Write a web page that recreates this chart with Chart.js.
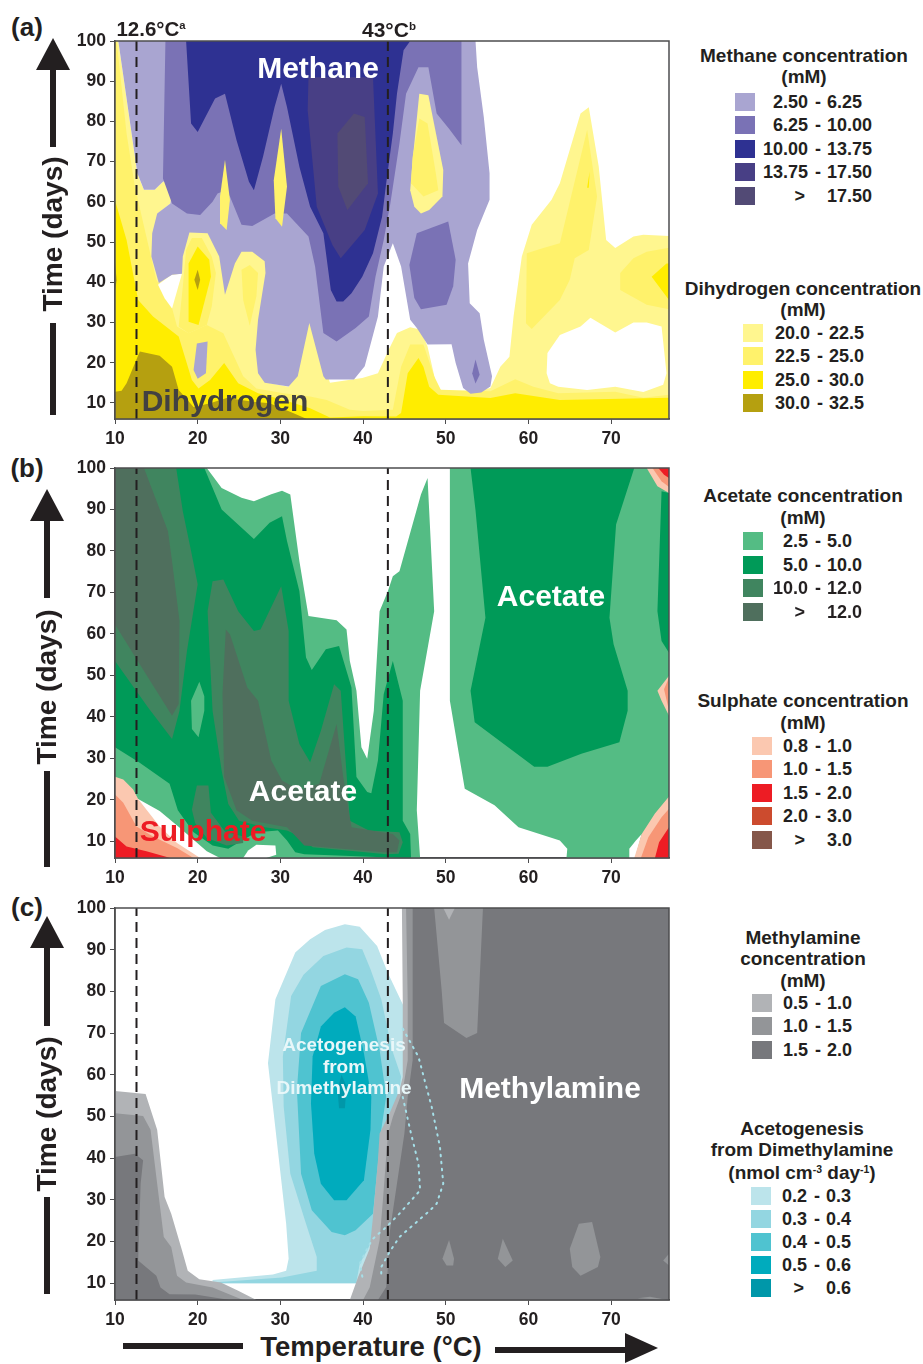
<!DOCTYPE html>
<html>
<head>
<meta charset="utf-8">
<title>Contour panels</title>
<script src="https://cdn.jsdelivr.net/npm/chart.js@4/dist/chart.umd.min.js"></script>
<style>
    html, body { margin: 0; padding: 0; background: #fff; }
    #page { position: relative; width: 923px; height: 1364px; overflow: hidden; font-family: "Liberation Sans", Arial, sans-serif; font-weight: bold; color: #231f20; }
    #page canvas { position: absolute; }
    .txt { position: absolute; white-space: nowrap; transform: translate(-50%, -50%); line-height: 1; }
    .txt sup { font-size: 55%; line-height: 0; vertical-align: baseline; position: relative; top: -0.6em; }
    .box { position: absolute; background: #231f20; }
    .swatch { position: absolute; }
</style>
</head>
<body>
<div id="page"></div>
<script>
// axis ticks and reference temperatures, same for all three panels
const tempTicks = [10, 20, 30, 40, 50, 60, 70];
const dayTicks = [10, 20, 30, 40, 50, 60, 70, 80, 90, 100];
const refTemps = [12.6, 43];

// all contour outlines below are [temperature, day]

// (a) dihydrogen
const h2Light = [[10,100],[10.4,100],[12.7,67],[13.5,63],[14.8,63],[15.8,65],[16.7,65.6],[16.9,62.5],[16.7,59.6],[15.1,57],[19,53],[21.5,53],[28.5,48],[28.5,15],[31,14],[33.5,31],[36,15],[39.9,16.2],[41.8,17.4],[43.1,23.2],[44.1,27.4],[45.7,28.8],[47,28.2],[47.8,24],[48.8,15],[49.6,12.6],[52.2,12.5],[55.4,13.7],[56.6,19],[57.7,21.5],[58.2,31.5],[59.2,46.4],[60.4,54.3],[62.8,60.5],[63.8,64.6],[66.3,82],[67.3,83.5],[68.5,68.8],[69.4,50.5],[70.5,48.5],[72.7,51.4],[73.9,51.8],[77,51.5],[77,6],[10,6]];
const h2Mid = [[10,100],[10.2,100],[11.4,77],[12.4,63.8],[13.7,52.2],[15,40.6],[16.9,33.6],[17.5,29],[18.9,27.3],[21.1,29.4],[23.1,27.3],[25.5,16.6],[27.1,13.6],[30.4,12.4],[33.6,11.6],[35.6,10.7],[38.4,8.3],[40,8],[43.6,8.3],[44.6,19],[45.7,24.5],[47.3,24.5],[48.6,16.6],[49.4,13.3],[55.4,12.9],[58.4,15.9],[60.6,14],[63.6,12.4],[70.5,12.8],[73.9,11.3],[77,12],[77,6],[10,6]];
const h2MidLobe1 = [[18.6,48.1],[19.3,51],[20.5,51],[21.7,46.4],[22.2,42.3],[21.7,34],[21.1,29.4],[18.9,27.3],[17.7,29],[18.2,38.9]];
const h2MidLobe2 = [[25.3,43.1],[26.3,44.3],[27.3,42.3],[27.1,36.5],[26.3,29.2],[25.5,35.6]];
const h2MidTower = [[59.8,47.2],[61.8,48.5],[63.8,49.7],[67.1,77.9],[68.3,61.3],[67.3,48],[65.6,46],[65,40.6],[63.8,35.6],[60.4,28.4],[59.7,29.8]];
const h2MidRight = [[71.1,42.3],[72.7,46],[74.3,47.6],[77,48.6],[77,33.3],[74.3,34.4],[71.1,38.1]];
const h2High = [[10,60.4],[11.4,50.5],[12.8,35.6],[14.6,31.5],[17.7,26.5],[19.3,15.7],[20.1,13.6],[21.5,15.7],[23.2,19.9],[24.9,14.9],[27.3,12.4],[30.4,10.7],[33.6,8.7],[36,6.4],[40,6.7],[44,6.6],[44.6,7.5],[45.4,17.4],[46.7,21.2],[47.3,19],[48,14],[49.1,12],[55.4,11.2],[58.4,12.4],[63.8,10.7],[77,11.3],[77,6],[10,6]];
const h2HighLobe = [[18.9,44.7],[20,48.9],[21.4,45.6],[21.6,41.4],[20.1,29.4],[18.9,30.2]];
const h2HighRight = [[74.9,41.4],[76.7,44.7],[77,44.7],[77,35.6]];
const h2HighSliver = [[67.1,63.5],[67.4,67.5],[67.3,63.5]];
const h2Top = [[10,12.8],[10.8,13],[11.4,14.9],[13,22.8],[15.4,21.7],[16.9,19],[17.7,13.2],[19.5,9],[21.5,9.9],[23.5,11.2],[26.7,10.3],[28.7,9.9],[31.6,7.4],[33.2,6],[10,6]];
const h2TopEdge = [[10,45],[10.2,40.5],[10,38]];
const h2Diamond = [[20,43.1],[20.3,40.6],[20,38.1],[19.6,40.6]];
const h2HoleLeft = [[15.2,39.4],[16.8,41.8],[18.1,42.2],[16.9,33.5],[16,36]];
const h2HoleRight = [[63.8,26.9],[66.3,29],[67.5,31.2],[70.5,27.5],[72.7,30],[74.3,30],[76.1,29],[76.7,17.4],[76.3,14.5],[73.9,12.7],[70.5,14],[67.1,13.2],[63.6,14],[62.6,14.9],[62.2,17.4],[62.3,22.4]];
const h2IslandLight = [[46.8,86.9],[47.9,86.5],[49.7,67.9],[49.6,61.3],[48,58],[47,57.1],[46.2,58.8],[45.7,62.9],[46,70.4]];
const h2IslandMid = [[46.8,80.7],[47.8,79.5],[48.8,67.1],[49.1,62.9],[47.3,61.3],[45.8,64.6],[46,71.2]];
const h2Spike1 = [[23.3,70.4],[23.9,60.5],[23.5,53],[22.7,54.7],[22.7,61.3]];
const h2Spike2 = [[30.1,78.2],[30.8,63.8],[30.2,53.8],[29.4,55.9],[29.2,65.4]];

// (a) methane
const ch4Low = [[10.4,100],[53.6,100],[53.8,93.5],[54.6,81.1],[55.3,67.1],[55.3,60.5],[53.8,53],[52.7,44.7],[52.9,34.8],[54.1,32.3],[54.6,25.7],[55.6,16.6],[55.4,14.1],[54.3,12.6],[53,12.3],[52.1,13.7],[51.2,19.9],[50.7,24.6],[47.8,24.5],[46.5,28.6],[45.7,30.7],[44.6,43.9],[43.6,49.7],[42.5,43.9],[41.8,31.5],[40.2,19.1],[38.9,15.8],[35.5,15.8],[35.2,16.6],[33.5,29.9],[32.1,16.6],[31,14.1],[28.1,15],[27.3,17.4],[27,23.2],[27.3,30.7],[28.2,42.3],[28.1,45.2],[26.6,47.6],[25.3,47.6],[24.5,44.7],[23.3,36.9],[22.6,46.4],[21.2,52.2],[19,52.4],[18.2,46.4],[18.1,42.1],[16.9,41.9],[15.3,39.8],[14.4,46.4],[14.5,52.2],[15.1,57.1],[16.7,59.6],[16.9,62.5],[16.7,65.6],[15.8,65],[14.8,63],[13.5,63],[12.7,67.1]];
const ch4LowPatch = [[19.9,24.8],[21.2,25.3],[21,17.4],[20,16],[19.5,18.2]];
const ch4Mid = [[16.1,100],[51.9,100],[51.9,74.1],[50.4,78.2],[48.9,82],[47.9,93.5],[46.7,93.5],[45.2,86.9],[44.4,74.5],[43.3,59.6],[42.5,50.5],[41.5,41.4],[40.7,31.5],[39.1,28.6],[36.8,25.3],[35.2,27.4],[34.2,43.9],[33.4,51.4],[30.8,57.1],[29.3,57.1],[27.9,55.5],[26.6,54],[25.3,54.3],[23.9,61.3],[23.4,62.9],[22.4,62.1],[21.8,60],[20.3,56.7],[18.7,57.1],[16.9,59.6],[15.8,65.8]];
const ch4MidPatch = [[46.5,52.2],[50.3,55.1],[51.2,45.6],[50.9,39],[50.1,34.4],[47,33.3],[46.2,36.1],[45.6,44.3]];
const ch4MidDiamond = [[53.6,20.8],[54.1,17],[53.6,14.8],[53.2,17.3]];
const ch4High = [[18.6,100],[45.7,100],[44.9,97.7],[44.1,86.9],[43.6,77],[42.8,64.6],[42.3,56.3],[41.2,47.2],[39.9,41.4],[38.6,37.3],[37.6,35.2],[36.8,35.2],[36.1,38.1],[35.2,52.2],[33.6,58.8],[32.3,68.7],[30.8,83.6],[30.1,89.4],[29.3,83.6],[27.9,71.2],[26.8,62.9],[26.2,65],[24.7,75.3],[23.3,86.9],[22.1,85.7],[20,77.4],[19.2,79.5]];
const ch4Higher = [[33.4,91],[41.2,91],[41.8,62.1],[40.2,53],[37.3,46],[36.3,49.3],[34.4,58.8],[33.3,82.8]];
const ch4Top = [[38.9,82],[40.2,81.1],[40.6,64.6],[38.1,58],[37,63.8],[36.9,77]];

// (b) acetate
const acLowLeft = [[10,100],[21.1,100],[22.9,95.2],[25.3,92.8],[26.8,92],[28.9,93.7],[30.2,94.5],[31.2,93.6],[32.3,77.5],[33.4,64.3],[36.8,63.3],[38,61.1],[38.4,53.5],[39.2,46.3],[39.8,32.7],[40.5,29.9],[41.3,41.5],[42,65.5],[43,70.3],[43.6,73.9],[44.4,75.1],[47,93.6],[47.8,97.6],[48.6,65.5],[46.9,46.3],[46.5,17.5],[46.9,6],[10,6]];
const acLowRight = [[50.5,100],[77,100],[77,6],[64.6,6],[64.7,8.2],[63.8,10.2],[58.8,13.4],[55.9,18.7],[52.3,22.7],[50.5,43.9]];
const acLowIsland = [[19.2,43.9],[20.2,48.5],[20.8,45],[20.8,41.5],[20.1,35.1],[19.3,37.1]];
const acMidLeft = [[10,100],[20.8,100],[22.9,90],[26.8,82.9],[28.7,86.8],[30.2,88.4],[30.8,82.4],[32.3,70.3],[33.1,54.3],[33.8,51.3],[35.5,56.3],[37.1,57.1],[38.6,47.1],[39.2,25.5],[40.5,21.9],[41,21.6],[41.8,29.5],[42.5,45.5],[43.6,53.5],[44.8,43.9],[44.8,15],[45.7,11.8],[45.8,6],[44.8,6],[32.9,6.9],[31.8,7.4],[30.8,10.2],[29.7,12.6],[27.1,12.2],[25,9.8],[23.7,8.2],[21.8,9],[19.5,12.2],[17.6,17.5],[16.6,23.9],[12.9,29.1],[10,32.7]];
const acMidRight = [[53,100],[72.8,100],[70.6,86.4],[69.8,63.9],[70.3,57.5],[72,46.3],[72,41.5],[71,33.9],[66.4,31.1],[62.3,28],[60.7,28],[53.5,38.7],[53,46.3],[54.8,63.9],[53.6,89.8]];
const acMidEdge = [[76.1,94.4],[77,94],[77,55.5],[76.1,58.3],[75.6,65.5]];
const acHighLeft = [[10,100],[17.4,100],[18.2,89.6],[19.2,80],[20,72],[18.7,55.9],[17.8,41.5],[16.9,34.7],[14,42.3],[10,53.5]];
const acHighMain = [[21.8,72.7],[23.1,73.1],[24.9,65.5],[26.8,60.7],[27.6,61.1],[30.1,71.5],[31,60.7],[31,43.9],[32.3,33.5],[33.6,29.1],[34.9,36.7],[36.5,47.9],[37.3,46.3],[38.4,15],[40.7,12.6],[44.4,12.2],[44.8,9.8],[44.3,7],[42.8,6.9],[33.9,8.6],[32.6,11],[30.8,12.6],[28.1,13.4],[25,15],[23.7,19],[22.9,27],[21.8,41.5],[21.2,65.5]];
const acHighPatch = [[19.3,17.7],[19.9,23.5],[21.3,23.5],[21.6,16.9],[23.3,12.4],[25.5,11.2],[25.5,9.6],[23.5,9],[21.1,10.8],[19.7,14.4]];
const acTopLeft = [[10,100],[13.5,100],[16.4,84.8],[16.9,77.5],[17.8,63.1],[17.7,43.1],[16.9,40.3],[14,49.5],[10,62.3]];
const acTopMain = [[23.4,61.1],[23.9,59.9],[26,47.1],[27.3,43.9],[28.9,29.5],[30.2,24.7],[32.3,22.3],[34.7,23.9],[36.8,38.3],[37.6,25.5],[38.6,13.4],[43.6,11.8],[44.4,10.2],[44.1,7.4],[42.5,7.4],[32.9,9],[30.8,13.4],[26.6,15],[24.7,17.5],[23.2,25.5],[23,45.5]];
const acHoleLeft = [[10,18],[12.8,20.2],[15.4,17.3],[17.9,13.2],[19.5,10.4],[21.1,7.6],[22.7,6],[10,6]];
const acHoleIsland = [[26.1,7.8],[27.1,9.2],[29.4,9],[29.5,6.8],[28.3,6],[25.5,6]];
const acHoleRight = [[72.2,6],[72.2,8.2],[73,10.2],[73.7,11.8],[72.9,6]];

// (b) sulphate
const so4LowLeft = [[10,25.6],[11,24.9],[12.2,22.5],[12.8,20.2],[15.4,13.6],[17.5,9.6],[20.3,6],[10,6]];
const so4MidLeft = [[10,21.3],[11,19.3],[12.6,13.6],[14.6,11.2],[17.5,8.4],[19.5,6],[10,6]];
const so4HighLeft = [[10,11.2],[11.4,8.8],[13.8,7.6],[16.7,6],[10,6]];
const so4LowRight = [[72.8,6],[73.7,11.8],[75.3,16.7],[77,20.8],[77,6]];
const so4MidRight = [[73.6,6],[74.5,11],[76.1,15.8],[77,17.9],[77,6]];
const so4HighRight = [[75.3,6],[75.8,9.8],[77,13.4],[77,6]];
const so4LowCorner = [[74.3,100],[75.6,95.6],[77,94],[77,100]];
const so4MidCorner = [[75,100],[76.1,96.8],[77,95.4],[77,100]];
const so4HighCorner = [[75.7,100],[76.4,98.4],[77,97.6],[77,100]];
const so4LowEdge = [[75.6,46.3],[77,49.9],[77,40.3],[76.1,43.9]];
const so4MidEdge = [[76.4,46.7],[77,49.5],[77,41.5]];

// (c) methylamine
const maLowLeft = [[10,56.1],[13.7,55.4],[15.1,46.8],[16,30.7],[16.8,26.7],[18.1,17.9],[18.8,13],[20.2,11],[22.8,10.2],[24.9,8.2],[27.1,6],[10,6]];
const maMidLeft = [[10,50.8],[13.4,50.1],[14.3,46.8],[15.1,33.9],[15.9,21.1],[16.8,18.7],[17.5,11.8],[18.6,10.2],[21.8,9],[25.5,6],[10,6]];
const maHighLeft = [[10,40.3],[12.4,41.1],[13.4,39.5],[13.1,33.9],[12.8,15.5],[15,11.8],[15.5,9],[16.6,7.4],[19.7,7.3],[23.9,6],[10,6]];
const maLowRight = [[44.7,100],[77,100],[77,6],[38.4,6],[39.4,11.5],[40.8,18.3],[41.2,25.9],[41.8,39.5],[42,45.9],[43.2,50.7],[44.4,56.3],[44.8,59.5],[44.8,78]];
const maMidRight = [[45.2,100],[77,100],[77,6],[40,6],[40.8,9],[42,20.3],[42.4,29.9],[43,45.7],[43.6,49.9],[44.8,56.3],[45.4,63.5],[45.4,78]];
const maHighRight = [[46,100],[77,100],[77,6],[41.8,6],[42.8,9.1],[43,13.9],[43.2,21.9],[45,45.9],[45.4,54.7],[46,63.5],[46,78]];
const maMidTop = [[48.6,100],[54.5,100],[53.8,70],[52.5,68.8],[49.8,72.4],[49.5,80.4]];
const maLowTop = [[49.7,100],[51.1,100],[50.4,97.2]];
const maDrop1 = [[50.4,20.4],[51,15.9],[50.9,14.3],[50.1,14.3],[49.6,15.9]];
const maDrop2 = [[56.9,20.7],[58.1,15.5],[57.2,13.9],[56.3,15.9]];
const maDrop3 = [[66.1,24.3],[67.7,24.7],[68.7,16.3],[68.4,13.9],[66.3,11.8],[65.3,13.9],[65,18.3]];
const maDrop4 = [[77,17.1],[76.3,15.5],[77,14.3]];
const maDrop5 = [[73.2,6.4],[74.7,6.8],[76.8,6]];

// (c) acetogenesis from dimethylamine
const agA = [[37.8,96.1],[39.6,95.5],[41.7,90.9],[43,84.4],[45.5,74],[45.5,56],[42,20],[40.7,10],[21.8,10],[21.8,10.8],[29.1,12.1],[30.7,13],[31,15.9],[30.7,24.3],[29.1,52.4],[28.5,62.8],[29.4,78.1],[31.8,89.3],[33.6,92.5],[35.4,94.7]];
const agB = [[38,90.5],[39.9,90.1],[40.9,85.3],[42.2,78.1],[43.5,66],[44.6,59.6],[43,30],[40.6,18.3],[39.6,14.7],[39.2,10.3],[39.2,10],[21.8,10],[21.8,10.2],[30.2,11.4],[34.4,13],[34.4,16.3],[33.1,24.3],[31.2,36.3],[30.4,52.4],[30.3,64.4],[31.3,78.9],[32.8,84],[35.2,88.5]];
const agC = [[37.8,84.1],[39.4,82.9],[40.7,77.3],[42,66],[42.8,54.8],[42.2,46.8],[41.2,26.7],[39.1,22.7],[37.8,21.5],[36.2,22.3],[33.8,27.5],[32.5,36.3],[32,56.4],[32.5,70],[34.9,81.3]];
const agD = [[37.8,76.2],[39.1,74],[40.1,65.2],[41,54.8],[40.9,46.8],[40.1,34.7],[38,29.9],[36.5,29.9],[34.9,33.9],[34.1,41.1],[33.7,53.2],[33.9,64.4],[34.9,71.6],[36.5,74.9]];
const agE = [[37.4,60],[38,57.2],[37.8,52],[37.1,52],[36.9,56.4]];
const agOuterLine = [[44.8,71.1],[46.7,64.3],[48.3,52.3],[49.3,42.7],[49.7,33.9],[48.9,29.1],[48.1,27.5],[44.4,21.1],[43.2,17.5],[42.2,13.9],[42.2,11.5]];
const agInnerLine = [[44.8,54.7],[45.8,45.9],[46.7,38.7],[46.9,32.3],[44.4,26.7],[42.8,23.5],[41.2,20.7],[40.6,18.7],[39.6,14.7],[40,10.7]];

// legend contents
const methaneRanges = [['2.50','6.25'],['6.25','10.00'],['10.00','13.75'],['13.75','17.50'],['>','17.50']];
const methaneColors = ['#a9a5d1','#7a72b5','#2e3192','#483f85','#524a75'];
const hydrogenRanges = [['20.0','22.5'],['22.5','25.0'],['25.0','30.0'],['30.0','32.5']];
const hydrogenColors = ['#fff68f','#fff26b','#ffed00','#b5a010'];
const acetateRanges = [['2.5','5.0'],['5.0','10.0'],['10.0','12.0'],['>','12.0']];
const acetateColors = ['#54bc84','#009a58','#40855f','#4f6f5d'];
const sulphateRanges = [['0.8','1.0'],['1.0','1.5'],['1.5','2.0'],['2.0','3.0'],['>','3.0']];
const sulphateColors = ['#fbc8b0','#f79676','#ed1c24','#cc4b2e','#85574a'];
const methylamineRanges = [['0.5','1.0'],['1.0','1.5'],['1.5','2.0']];
const methylamineColors = ['#b1b3b6','#939598','#77787c'];
const acetogenesisRanges = [['0.2','0.3'],['0.3','0.4'],['0.4','0.5'],['0.5','0.6'],['>','0.6']];
const acetogenesisColors = ['#bce4eb','#93d6e1','#4fc3d0','#00abbd','#0097a9'];

const page = document.getElementById('page');

// painter's order: later entries sit on top
const layersA = [
    [h2Light, hydrogenColors[0]], [h2Mid, hydrogenColors[1]], [h2MidLobe1, hydrogenColors[1]], [h2MidLobe2, hydrogenColors[1]],
    [h2MidTower, hydrogenColors[1]], [h2MidRight, hydrogenColors[1]], [h2High, hydrogenColors[2]], [h2HighLobe, hydrogenColors[2]],
    [h2HighRight, hydrogenColors[2]], [h2HighSliver, hydrogenColors[2]], [h2Top, hydrogenColors[3]], [h2TopEdge, hydrogenColors[3]],
    [h2Diamond, hydrogenColors[3]], [h2HoleLeft, '#fff'], [h2HoleRight, '#fff'],
    [ch4Low, methaneColors[0]], [ch4LowPatch, methaneColors[0]], [ch4Mid, methaneColors[1]], [ch4MidPatch, methaneColors[1]],
    [ch4MidDiamond, methaneColors[1]], [ch4High, methaneColors[2]], [ch4Higher, methaneColors[3]], [ch4Top, methaneColors[4]],
    [h2IslandLight, hydrogenColors[0]], [h2IslandMid, hydrogenColors[1]], [h2Spike1, hydrogenColors[1]], [h2Spike2, hydrogenColors[1]]
];
const layersB = [
    [acLowLeft, acetateColors[0]], [acLowRight, acetateColors[0]], [acHoleLeft, '#fff'], [acHoleIsland, '#fff'], [acHoleRight, '#fff'],
    [acMidLeft, acetateColors[1]], [acMidRight, acetateColors[1]], [acMidEdge, acetateColors[1]], [acLowIsland, acetateColors[0]],
    [acHighLeft, acetateColors[2]], [acHighMain, acetateColors[2]], [acHighPatch, acetateColors[2]], [acTopLeft, acetateColors[3]], [acTopMain, acetateColors[3]],
    [so4LowLeft, sulphateColors[0]], [so4MidLeft, sulphateColors[1]], [so4HighLeft, sulphateColors[2]],
    [so4LowRight, sulphateColors[0]], [so4MidRight, sulphateColors[1]], [so4HighRight, sulphateColors[2]],
    [so4LowCorner, sulphateColors[0]], [so4MidCorner, sulphateColors[1]], [so4HighCorner, sulphateColors[2]],
    [so4LowEdge, sulphateColors[0]], [so4MidEdge, sulphateColors[1]]
];
const layersC = [
    [agA, acetogenesisColors[0]], [agB, acetogenesisColors[1]], [agC, acetogenesisColors[2]], [agD, acetogenesisColors[3]], [agE, acetogenesisColors[4]],
    [maLowLeft, methylamineColors[0]], [maMidLeft, methylamineColors[1]], [maHighLeft, methylamineColors[2]],
    [maLowRight, methylamineColors[0]], [maMidRight, methylamineColors[1]], [maHighRight, methylamineColors[2]],
    [maMidTop, methylamineColors[1]], [maLowTop, methylamineColors[0]],
    [maDrop1, methylamineColors[1]], [maDrop2, methylamineColors[1]], [maDrop3, methylamineColors[1]], [maDrop4, methylamineColors[1]], [maDrop5, methylamineColors[1]]
];

// top and right edge of the frame, chart.js only draws the two axis sides
const framePlugin = {
    id: 'frame',
    afterDraw(chart) {
        const { ctx, chartArea: a } = chart;
        ctx.save();
        ctx.strokeStyle = '#4d4d4f';
        ctx.lineWidth = 1.5;
        ctx.strokeRect(a.left, a.top, a.right - a.left, a.bottom - a.top);
        ctx.restore();
    }
};

function toPoints(list) {
    return list.map(p => ({ x: p[0], y: p[1] }));
}

function createPanel(id, layers, top, bottom, dotted) {
    const canvas = document.createElement('canvas');
    canvas.id = id;
    canvas.width = 620;
    canvas.height = bottom - top + 42;
    canvas.style.left = '60px';
    canvas.style.top = (top - 11) + 'px';
    page.appendChild(canvas);

    const datasets = layers.map((layer, i) => ({
        label: id + ' contour ' + i,
        data: toPoints(layer[0]),
        showLine: true,
        fill: 'shape',
        backgroundColor: layer[1],
        borderWidth: 0,
        pointRadius: 0,
        order: layers.length - i
    }));
    dotted.forEach(line => datasets.push({
        label: id + ' boundary',
        data: toPoints(line),
        showLine: true,
        borderColor: '#a5dfe8',
        borderWidth: 2,
        borderCapStyle: 'round',
        borderDash: [1.5, 5.5],
        pointRadius: 0,
        order: -1
    }));
    refTemps.forEach(t => datasets.push({
        label: t + ' °C',
        data: [{ x: t, y: 6 }, { x: t, y: 100 }],
        showLine: true,
        borderColor: '#231f20',
        borderWidth: 2,
        borderDash: [10, 6],
        pointRadius: 0,
        order: -2
    }));

    return new Chart(canvas, {
        type: 'scatter',
        data: { datasets: datasets },
        plugins: [framePlugin],
        options: {
            responsive: false,
            animation: false,
            events: [],
            layout: { padding: { top: 11, right: 11, left: 0, bottom: 0 } },
            plugins: { legend: { display: false }, tooltip: { enabled: false } },
            scales: {
                x: {
                    type: 'linear', min: 10, max: 77,
                    afterFit: scale => { scale.height = 31; scale.paddingLeft = 0; scale.paddingRight = 0; },
                    afterBuildTicks: scale => { scale.ticks = tempTicks.map(v => ({ value: v })); },
                    grid: { drawOnChartArea: false, tickLength: 5, color: '#4d4d4f' },
                    border: { color: '#4d4d4f', width: 1.5 },
                    ticks: { autoSkip: false, maxRotation: 0, padding: 5, color: '#231f20', font: { size: 17.5, weight: 'bold' } }
                },
                y: {
                    type: 'linear', min: 6, max: 100,
                    afterFit: scale => { scale.width = 55; scale.paddingTop = 0; scale.paddingBottom = 0; },
                    afterBuildTicks: scale => { scale.ticks = dayTicks.map(v => ({ value: v })); },
                    grid: { drawOnChartArea: false, tickLength: 5, color: '#4d4d4f' },
                    border: { color: '#4d4d4f', width: 1.5 },
                    ticks: { autoSkip: false, padding: 4, color: '#231f20', font: { size: 17.5, weight: 'bold' } }
                }
            }
        }
    });
}

function addText(html, x, y, size, color, rotate) {
    const el = document.createElement('div');
    el.className = 'txt';
    el.innerHTML = html;
    el.style.left = x + 'px';
    el.style.top = y + 'px';
    el.style.fontSize = size + 'px';
    if (color) el.style.color = color;
    if (rotate) el.style.transform = 'translate(-50%, -50%) rotate(' + rotate + 'deg)';
    page.appendChild(el);
}

function addBox(x, y, w, h) {
    const el = document.createElement('div');
    el.className = 'box';
    el.style.cssText = 'left:' + x + 'px;top:' + y + 'px;width:' + w + 'px;height:' + h + 'px;';
    page.appendChild(el);
    return el;
}

// time arrow running up the left side of a panel
function addTimeArrow(cx, tip, headEnd, upperEnd, textY, lowerStart, lowerEnd) {
    addBox(cx - 17, tip, 34, headEnd - tip).style.clipPath = 'polygon(50% 0, 100% 100%, 0 100%)';
    addBox(cx - 3, headEnd, 6, upperEnd - headEnd);
    addBox(cx - 3, lowerStart, 6, lowerEnd - lowerStart);
    addText('Time (days)', cx, textY, 28, null, -90);
}

function addLegend(titles, ranges, colors, o) {
    titles.forEach((line, i) => addText(line, o.center, o.titleY[i], 19));
    ranges.forEach((range, i) => {
        const y = o.top + i * o.step;
        const sw = document.createElement('div');
        sw.className = 'swatch';
        sw.style.cssText = 'left:' + o.swatchX + 'px;top:' + y + 'px;width:20px;height:18px;background:' + colors[i] + ';';
        page.appendChild(sw);

        const cy = y + 9;
        const isOpen = range[0] === '>';
        const left = document.createElement('div');
        left.className = 'txt';
        left.style.cssText = 'right:' + (923 - (isOpen ? o.split - 3 : o.split)) + 'px;top:' + cy + 'px;font-size:18px;transform:translateY(-50%);';
        left.textContent = range[0];
        page.appendChild(left);
        if (!isOpen) addText('-', o.split + 10, cy, 18);
        const right = document.createElement('div');
        right.className = 'txt';
        right.style.cssText = 'left:' + (o.split + 19) + 'px;top:' + cy + 'px;font-size:18px;transform:translateY(-50%);';
        right.textContent = range[1];
        page.appendChild(right);
    });
}

document.addEventListener('DOMContentLoaded', function () {
    Chart.defaults.font.family = '"Liberation Sans", Arial, sans-serif';

    createPanel('panelA', layersA, 41, 419, []);
    createPanel('panelB', layersB, 468, 858, []);
    createPanel('panelC', layersC, 908, 1300, [agOuterLine, agInnerLine]);

    addText('(a)', 27, 27, 26);
    addText('(b)', 27, 468, 26);
    addText('(c)', 27, 907, 26);
    addText('12.6°C<sup>a</sup>', 151, 29, 20.5);
    addText('43°C<sup>b</sup>', 389, 29, 21);

    addText('Methane', 318, 68, 30, '#fff');
    addText('Dihydrogen', 225, 401, 30, '#414042');
    addText('Acetate', 551, 596, 30, '#fff');
    addText('Acetate', 303, 791, 30, '#fff');
    addText('Sulphate', 203, 831, 30, '#ed1c24');
    addText('Methylamine', 550, 1088, 30, '#fff');
    addText('Acetogenesis', 344, 1044, 19, '#e8f7f9');
    addText('from', 344, 1066, 19, '#e8f7f9');
    addText('Dimethylamine', 344, 1087, 19, '#e8f7f9');

    addTimeArrow(53, 38, 70, 147, 234, 323, 415);
    addTimeArrow(47, 489, 521, 598, 687, 771, 867);
    addTimeArrow(47, 916, 948, 1026, 1114, 1197, 1294);

    addText('Temperature (°C)', 371, 1347, 27.5);
    addBox(123, 1343, 120, 6);
    addBox(495, 1347, 131, 6);
    addBox(625, 1333, 33, 30).style.clipPath = 'polygon(0 0, 100% 50%, 0 100%)';

    addLegend(['Methane concentration', '(mM)'], methaneRanges, methaneColors,
        { center: 804, titleY: [55, 76], swatchX: 735, top: 93, step: 23.4, split: 808 });
    addLegend(['Dihydrogen concentration', '(mM)'], hydrogenRanges, hydrogenColors,
        { center: 803, titleY: [288, 309], swatchX: 743, top: 324, step: 23.4, split: 810 });
    addLegend(['Acetate concentration', '(mM)'], acetateRanges, acetateColors,
        { center: 803, titleY: [495, 517], swatchX: 743, top: 532, step: 23.5, split: 808 });
    addLegend(['Sulphate concentration', '(mM)'], sulphateRanges, sulphateColors,
        { center: 803, titleY: [700, 722], swatchX: 752, top: 737, step: 23.4, split: 808 });
    addLegend(['Methylamine', 'concentration', '(mM)'], methylamineRanges, methylamineColors,
        { center: 803, titleY: [937, 958, 980], swatchX: 752, top: 994, step: 23.4, split: 808 });
    addLegend(['Acetogenesis', 'from Dimethylamine', '(nmol cm<sup>-3</sup> day<sup>-1</sup>)'], acetogenesisRanges, acetogenesisColors,
        { center: 802, titleY: [1128, 1149, 1172], swatchX: 751, top: 1187, step: 23, split: 807 });
});
</script>
</body>
</html>
